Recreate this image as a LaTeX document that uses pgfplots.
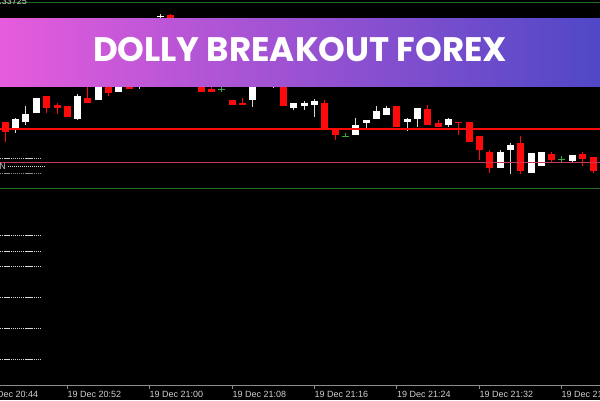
\documentclass[border=0pt]{standalone}
\usepackage{pgfplots}
\pgfplotsset{compat=1.18}
\usepackage{pgfplotstable}
\usepackage{fontspec}
\setmainfont{Liberation Sans}
\newfontfamily\poppins{Poppins}
\definecolor{cred}{HTML}{FF0A0A}
\definecolor{cgreen}{HTML}{1E6B1E}
\definecolor{dojig}{HTML}{3DAA3D}
\definecolor{bannerL}{HTML}{E65CDC}
\definecolor{bannerM}{HTML}{9A52D2}
\definecolor{bannerR}{HTML}{4F48C6}
\definecolor{thinred}{HTML}{C8385A}
\definecolor{axgray}{HTML}{8C8C8C}
\definecolor{lblgray}{HTML}{D0D0D0}

% candles in chart pixel units (y grows downwards): x, body top, body bottom, wick top, wick bottom
\pgfplotstableread{
x bt bb wt wb
5.3 121.7 131.7 121.7 141.7
46.5 96 108 96 113.3
57 104.7 108.3 102.7 114.3
67 106 116.7 106 116.7
87.7 98 103 87 103
108.5 80 92.7 78 95.7
129 75 89.3 72 89.3
170 15.5 40 14 42
180.5 40 60 38 62
191 58 78 55 80
201 76 91.7 74 91.7
211.5 89 91.7 86.7 91.7
232 99.7 105 99.7 105
242.5 102.7 105 98.3 105
283.5 70 106 68 106
324.7 102.7 127.7 100 127.7
335 130 135.3 130 140
396.8 106 126.7 106 126.7
427.8 109.3 125 105 125
438.3 122.7 126.7 120 126.7
458.3 121.7 123 121.7 135
469 121.7 141.7 121.7 141.7
479.3 136 150 136 160
489.7 151.7 168.3 150 173.3
520.3 143.3 170.7 136 174
551.5 154 160 152 163.3
582.5 154 159.3 151.7 166
593 157.3 170.7 157.3 173.3
}\redtab
\pgfplotstableread{
x bt bb wt wb
15.5 119.3 128.3 118 133.3
25.8 114 121.7 106 125
36.5 97.7 113.3 97.7 113.3
77.5 95.7 119 94.3 120
98 78 99.7 76 99.7
118.5 76 91.7 74 91.7
139 86.3 87.3 84 89.3
160 16.3 17.3 14 30
252.5 70 100 68 106.7
263 62 75 60 86.5
273.5 62 72 60 87.5
293.7 102.7 108 102.7 110
304.3 102.7 106 101 110
314.3 101 105 99 116.7
355.5 124.7 135 117.7 135
366 119.7 123 119.7 128.3
376.5 111 119 106 119
386.5 108 114.7 106 114.7
407 119.3 122 117.7 130.7
417.5 108 118.7 108 126.7
448.3 119.3 125 117.7 126.7
500 151.7 168.3 150 168.3
510 145 150 142.7 174
531 153.3 172.7 153.3 172.7
541 151.7 165.7 151.7 165.7
572 155 160.7 155 163.3
}\whitetab
\pgfplotstableread{
x bt bb wt wb
221.7 88.8 89.8 86.7 91.7
345.3 135.5 136.5 133.3 136.5
561.7 158.5 159.5 155.7 162.3
}\dojitab

\pgfplotsset{
  set layers,
  wick/.style={draw=none, no markers, mark size=0pt, error bars/.cd, y dir=plus, y explicit, error mark=none,
    error bar style={draw=#1, line width=1pt}},
  body/.style={draw=none, no markers, mark size=0pt, error bars/.cd, y dir=plus, y explicit, error mark=none,
    error bar style={draw=#1, line width=7pt}},
}
\tikzset{
  stub/.style={white!85!black, line width=0.6pt, dash pattern=on 1.3pt off 0.8pt},
  tlbl/.style={anchor=west, inner sep=0pt, text=lblgray, font=\fontsize{9}{10}\selectfont},
  tk/.style={axgray, line width=1pt},
}

\begin{document}
\begin{tikzpicture}
\begin{axis}[scale only axis, width=600pt, height=400pt,
  xmin=0, xmax=600, ymin=0, ymax=400, y dir=reverse, hide axis, clip=true]
\begin{pgfonlayer}{axis background}
\fill[black] (axis cs:0,0) rectangle (axis cs:600,400);
\end{pgfonlayer}
% candles
\addplot[wick=cred] table[x=x, y=wt, y error expr=\thisrow{wb}-\thisrow{wt}] {\redtab};
\addplot[body=cred] table[x=x, y=bt, y error expr=\thisrow{bb}-\thisrow{bt}] {\redtab};
\addplot[wick=white!85!black] table[x=x, y=wt, y error expr=\thisrow{wb}-\thisrow{wt}] {\whitetab};
\addplot[body=white] table[x=x, y=bt, y error expr=\thisrow{bb}-\thisrow{bt}] {\whitetab};
\addplot[wick=dojig] table[x=x, y=wt, y error expr=\thisrow{wb}-\thisrow{wt}] {\dojitab};
\addplot[body=dojig] table[x=x, y=bt, y error expr=\thisrow{bb}-\thisrow{bt}] {\dojitab};
\begin{pgfonlayer}{axis foreground}
% horizontal levels (drawn over the candles)
\draw[cgreen, line width=1pt] (axis cs:0,2.7) -- (axis cs:600,2.7);
\draw[cgreen, line width=1pt] (axis cs:0,188) -- (axis cs:600,188);
\draw[thinred, line width=1pt] (axis cs:0,162.3) -- (axis cs:600,162.3);
\draw[cred, line width=2pt] (axis cs:0,128.7) -- (axis cs:600,128.7);
% left dashed level stubs
\draw[stub, white!80!black] (axis cs:0,158.3) -- (axis cs:40,158.3);
\draw[stub, dash pattern=on 1pt off 1pt] (axis cs:8,166) -- (axis cs:46,166);
\draw[stub, white!55!black] (axis cs:0,173.3) -- (axis cs:40,173.3);
\draw[stub] (axis cs:0,235) -- (axis cs:40,235);
\draw[stub] (axis cs:0,251) -- (axis cs:40,251);
\draw[stub] (axis cs:0,266) -- (axis cs:40,266);
\draw[stub] (axis cs:0,297) -- (axis cs:40,297);
\draw[stub] (axis cs:0,328) -- (axis cs:40,328);
\draw[stub] (axis cs:0,359) -- (axis cs:40,359);
\node[anchor=east, inner sep=0pt, text=white!75!black, font=\fontsize{9}{10}\selectfont] at (axis cs:6,166) {N};
% time axis
\draw[tk] (axis cs:0,385.7) -- (axis cs:600,385.7);
\draw[tk] (axis cs:67.3,385.7) -- (axis cs:67.3,389);
\draw[tk] (axis cs:149.3,385.7) -- (axis cs:149.3,389);
\draw[tk] (axis cs:232.3,385.7) -- (axis cs:232.3,389);
\draw[tk] (axis cs:314.3,385.7) -- (axis cs:314.3,389);
\draw[tk] (axis cs:396.7,385.7) -- (axis cs:396.7,389);
\draw[tk] (axis cs:479.3,385.7) -- (axis cs:479.3,389);
\draw[tk] (axis cs:561.3,385.7) -- (axis cs:561.3,389);
\node[tlbl] at (axis cs:-15.5,394) {19 Dec 20:44};
\node[tlbl] at (axis cs:67.5,394) {19 Dec 20:52};
\node[tlbl] at (axis cs:149.5,394) {19 Dec 21:00};
\node[tlbl] at (axis cs:232.5,394) {19 Dec 21:08};
\node[tlbl] at (axis cs:314.5,394) {19 Dec 21:16};
\node[tlbl] at (axis cs:396.9,394) {19 Dec 21:24};
\node[tlbl] at (axis cs:479.5,394) {19 Dec 21:32};
\node[tlbl] at (axis cs:561.5,394) {19 Dec 21:40};
\node[anchor=east, inner sep=0pt, text=lblgray, font=\fontsize{9}{10}\selectfont] at (axis cs:27,1.5) {1.33725};
% banner
\shade[left color=bannerL, right color=bannerR, middle color=bannerM] (axis cs:0,18.3) rectangle (axis cs:600,86.5);
\node[text=white, inner sep=0pt, font=\poppins\bfseries\fontsize{34}{38}\selectfont] at (axis cs:300,50) {DOLLY BREAKOUT FOREX};
\end{pgfonlayer}
\end{axis}
\pgfresetboundingbox
\useasboundingbox (current axis.south west) rectangle (current axis.north east);
\end{tikzpicture}
\end{document}
